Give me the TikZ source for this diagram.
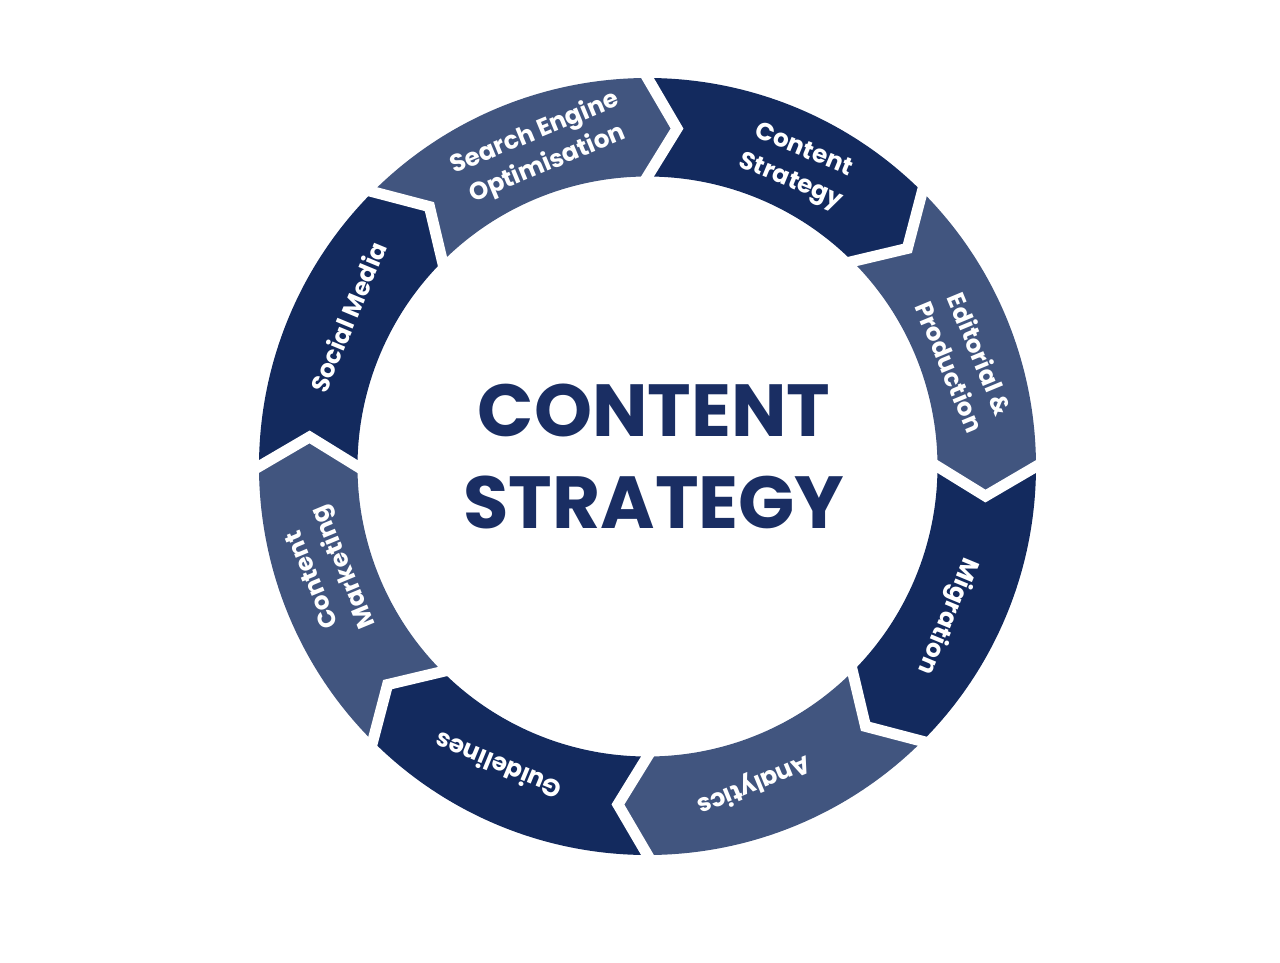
\documentclass[tikz,border=0pt]{standalone}
\usepackage{fontspec}
\setmainfont{Poppins}
\usetikzlibrary{calc}

\begin{document}
\begin{tikzpicture}
% \clip (-12.95,-9.91) rectangle (12.65,9.33);
\useasboundingbox (-12.95,-9.91) rectangle (12.65,9.33);

% Changing colors of the ring
\definecolor{r19g42b94}{RGB}{19,42,94}%
\definecolor{r65g85b127}{RGB}{65,85,127}%
\definecolor{r26g46b99}{RGB}{26,46,99}%

% Marking chevron tips between segments
\coordinate (t0) at (-5:6.785);
\coordinate (t1) at (40:6.785);
\coordinate (t2) at (85:6.785);
\coordinate (t3) at (130:6.785);
\coordinate (t4) at (175:6.785);
\coordinate (t5) at (220:6.785);
\coordinate (t6) at (265:6.785);
\coordinate (t7) at (310:6.785);

% Filling segment Search Engine Optimisation
\fill[r65g85b127] (135:7.77) arc[start angle=135,end angle=90,radius=7.77cm] -- (t2) -- (90:5.8) arc[start angle=90,end angle=135,radius=5.8cm] -- (t3) -- cycle;

% Filling segment Content Strategy
\fill[r19g42b94] (90:7.77) arc[start angle=90,end angle=45,radius=7.77cm] -- (t1) -- (45:5.8) arc[start angle=45,end angle=90,radius=5.8cm] -- (t2) -- cycle;

% Filling segment Editorial and Production
\fill[r65g85b127] (45:7.77) arc[start angle=45,end angle=0,radius=7.77cm] -- (t0) -- (0:5.8) arc[start angle=0,end angle=45,radius=5.8cm] -- (t1) -- cycle;

% Filling segment Migration
\fill[r19g42b94] (0:7.77) arc[start angle=0,end angle=-45,radius=7.77cm] -- (t7) -- (-45:5.8) arc[start angle=-45,end angle=0,radius=5.8cm] -- (t0) -- cycle;

% Filling segment Analytics
\fill[r65g85b127] (-45:7.77) arc[start angle=-45,end angle=-90,radius=7.77cm] -- (t6) -- (-90:5.8) arc[start angle=-90,end angle=-45,radius=5.8cm] -- (t7) -- cycle;

% Filling segment Guidelines
\fill[r19g42b94] (-90:7.77) arc[start angle=-90,end angle=-135,radius=7.77cm] -- (t5) -- (-135:5.8) arc[start angle=-135,end angle=-90,radius=5.8cm] -- (t6) -- cycle;

% Filling segment Content Marketing
\fill[r65g85b127] (-135:7.77) arc[start angle=-135,end angle=-180,radius=7.77cm] -- (t4) -- (180:5.8) arc[start angle=180,end angle=225,radius=5.8cm] -- (t5) -- cycle;

% Filling segment Social Media
\fill[r19g42b94] (180:7.77) arc[start angle=180,end angle=135,radius=7.77cm] -- (t3) -- (135:5.8) arc[start angle=135,end angle=180,radius=5.8cm] -- (t4) -- cycle;

% Drawing white gaps t0 ... t7
\draw[white,line width=0.22cm] ($(t0)!1.4!(0:7.77)$) -- (t0) -- ($(t0)!1.4!(0:5.8)$);
\draw[white,line width=0.22cm] ($(t1)!1.4!(45:7.77)$) -- (t1) -- ($(t1)!1.4!(45:5.8)$);
\draw[white,line width=0.22cm] ($(t2)!1.4!(90:7.77)$) -- (t2) -- ($(t2)!1.4!(90:5.8)$);
\draw[white,line width=0.22cm] ($(t3)!1.4!(135:7.77)$) -- (t3) -- ($(t3)!1.4!(135:5.8)$);
\draw[white,line width=0.22cm] ($(t4)!1.4!(180:7.77)$) -- (t4) -- ($(t4)!1.4!(180:5.8)$);
\draw[white,line width=0.22cm] ($(t5)!1.4!(225:7.77)$) -- (t5) -- ($(t5)!1.4!(225:5.8)$);
\draw[white,line width=0.22cm] ($(t6)!1.4!(270:7.77)$) -- (t6) -- ($(t6)!1.4!(270:5.8)$);
\draw[white,line width=0.22cm] ($(t7)!1.4!(315:7.77)$) -- (t7) -- ($(t7)!1.4!(315:5.8)$);

% Labels of the segments
{\fontsize{14}{19}\selectfont\bfseries
\node (seo) [white,align=center,rotate=22.5] at (108.5:6.7) {Search Engine\\Optimisation};
\node (cstrat) [white,align=center,rotate=-22.5] at (63.5:6.7) {Content\\Strategy};
\node (edit) [white,align=center,rotate=-67.5] at (18.5:6.7) {Editorial \&\\Production};
\node (migr) [white,align=center,rotate=-112.5] at (-26.5:6.7) {Migration};
\node (analyt) [white,align=center,rotate=-157.5] at (-71.5:6.7) {Analytics};
\node (guide) [white,align=center,rotate=157.5] at (-116.5:6.7) {Guidelines};
\node (cmark) [white,align=center,rotate=112.5] at (-161.5:6.7) {Content\\Marketing};
\node (social) [white,align=center,rotate=67.5] at (153.5:6.7) {Social Media};
}

% Title in the middle
\node (title) [r26g46b99,align=center,font=\fontsize{42}{52}\selectfont\bfseries] at (0.13,0.2) {CONTENT\\STRATEGY};
\end{tikzpicture}
\end{document}
